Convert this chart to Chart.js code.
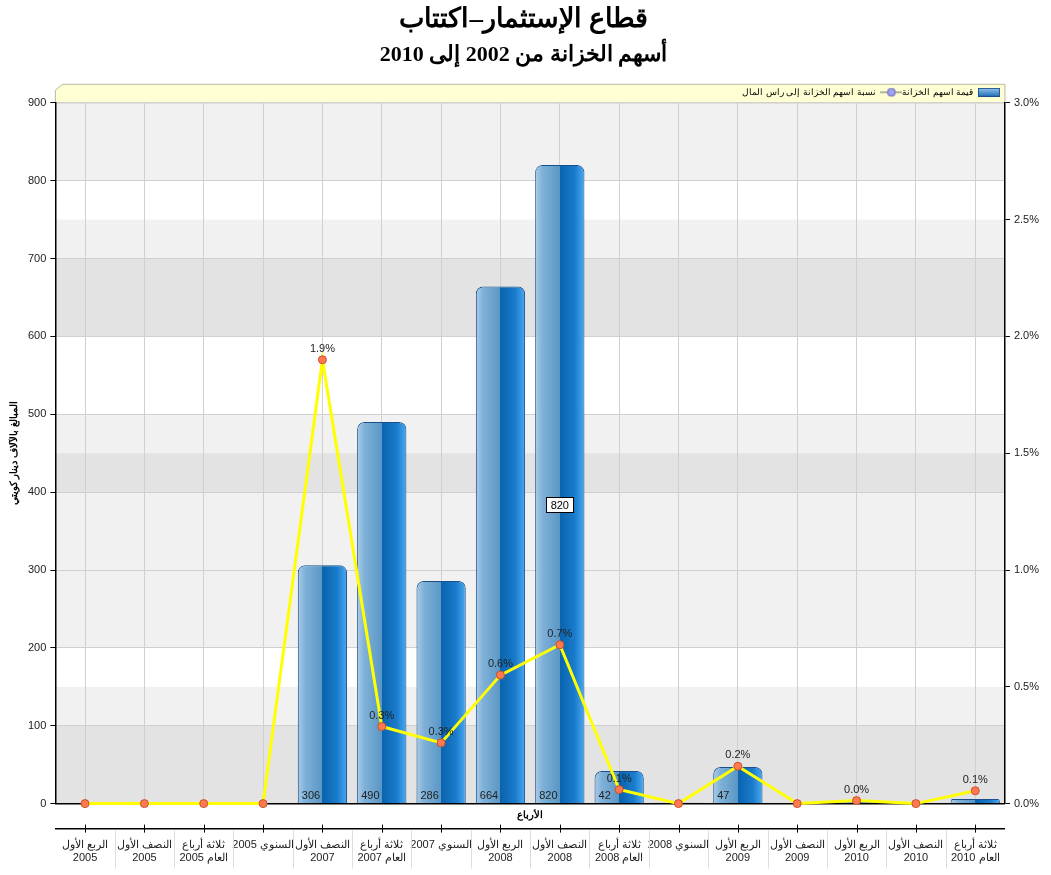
<!DOCTYPE html>
<html>
<head>
<meta charset="utf-8">
<script src="https://cdn.jsdelivr.net/npm/chart.js@4.4.1/dist/chart.umd.min.js"></script>
<style>
  body { margin: 0; background: #fff; }
  #wrap { width: 1051px; height: 875px; }
</style>
</head>
<body>
<div id="wrap"><canvas id="myChart"></canvas></div>
<script>
// categories (quarters)
const quarters = [
  ['الربع الأول', '2005'],
  ['النصف الأول', '2005'],
  ['ثلاثة أرباع', 'العام 2005'],
  'السنوي 2005',
  ['النصف الأول', '2007'],
  ['ثلاثة أرباع', 'العام 2007'],
  'السنوي 2007',
  ['الربع الأول', '2008'],
  ['النصف الأول', '2008'],
  ['ثلاثة أرباع', 'العام 2008'],
  'السنوي 2008',
  ['الربع الأول', '2009'],
  ['النصف الأول', '2009'],
  ['الربع الأول', '2010'],
  ['النصف الأول', '2010'],
  ['ثلاثة أرباع', 'العام 2010']
];

// treasury shares value (thousand KD)
const shareValues = [0, 0, 0, 0, 306, 490, 286, 664, 820, 42, 1, 47, 0, 2, 0, 6];

// treasury shares to capital ratio (%)
const shareRatio = [0, 0, 0, 0, 1.9, 0.33, 0.26, 0.55, 0.68, 0.06, 0, 0.16, 0, 0.013, 0, 0.055];

const leftTicks = { min: 0, max: 900, step: 100 };
const rightTicks = { min: 0, max: 3, step: 0.5 };

const barTitle = 'قيمة أسهم الخزانة';
const lineTitle = 'نسبة أسهم الخزانة إلى رأس المال';
const hoverValue = 820;

const font = "'Liberation Sans', Arial, sans-serif";

function barGradient(c) {
  const chart = c.chart;
  const xs = chart.scales && chart.scales.x;
  if (!chart.chartArea || !xs || c.dataIndex == null) return '#2a7cc4';
  const cx = xs.getPixelForValue(c.dataIndex);
  const w = xs.width / quarters.length * 0.83;
  const g = chart.ctx.createLinearGradient(cx - w / 2, 0, cx + w / 2, 0);
  g.addColorStop(0, '#a9cbe6');
  g.addColorStop(0.15, '#7fb1d8');
  g.addColorStop(0.5, '#5a97c5');
  g.addColorStop(0.5, '#0a63ad');
  g.addColorStop(0.8, '#1a7bcc');
  g.addColorStop(1, '#4aa9ef');
  return g;
}

// small legend icons
function makeBarIcon() {
  const cv = document.createElement('canvas');
  cv.width = 22; cv.height = 9;
  const c = cv.getContext('2d');
  const g = c.createLinearGradient(0, 0, 0, 9);
  g.addColorStop(0, '#9cc6ea');
  g.addColorStop(1, '#1a6db8');
  c.fillStyle = g;
  c.fillRect(0.5, 0.5, 21, 8);
  c.strokeStyle = '#1a4f8c';
  c.strokeRect(0.5, 0.5, 21, 8);
  return cv;
}
function makeLineIcon() {
  const cv = document.createElement('canvas');
  cv.width = 22; cv.height = 10;
  const c = cv.getContext('2d');
  c.strokeStyle = '#666';
  c.lineWidth = 1;
  c.beginPath(); c.moveTo(0, 5); c.lineTo(22, 5); c.stroke();
  c.fillStyle = '#a0a0f0';
  c.strokeStyle = '#6a6ab0';
  c.beginPath(); c.arc(11, 5, 4, 0, Math.PI * 2); c.fill(); c.stroke();
  return cv;
}

let stripTop = 0;

// chart area bands, legend strip, labels, axis cells
const decorPlugin = {
  id: 'decor',
  afterLayout(chart) {
    // keep legend items inside the strip above the plot
    const lg = chart.legend, a = chart.chartArea;
    stripTop = lg.top;
    lg.left = a.left;
    lg.right = a.right - 5;
    lg.width = lg.right - lg.left;
    lg.top += 4;
    lg.bottom += 4;
  },
  beforeDraw(chart) {
    const { ctx, chartArea: a, scales } = chart;
    ctx.save();
    ctx.fillStyle = '#ffffff';
    ctx.fillRect(a.left, a.top, a.right - a.left, a.bottom - a.top);
    ctx.fillStyle = 'rgba(0,0,0,0.055)';
    for (let v = leftTicks.min; v < leftTicks.max; v += leftTicks.step * 2) {
      const y1 = scales.y.getPixelForValue(v), y2 = scales.y.getPixelForValue(v + leftTicks.step);
      ctx.fillRect(a.left, y2, a.right - a.left, y1 - y2);
    }
    for (let v = rightTicks.min; v < rightTicks.max; v += rightTicks.step * 2) {
      const y1 = scales.y2.getPixelForValue(v), y2 = scales.y2.getPixelForValue(v + rightTicks.step);
      ctx.fillRect(a.left, y2, a.right - a.left, y1 - y2);
    }
    // legend strip
    const lt = stripTop + 0.5, lb = a.top;
    ctx.beginPath();
    ctx.moveTo(a.left, lb);
    ctx.lineTo(a.left, lt + 6);
    ctx.lineTo(a.left + 7, lt);
    ctx.lineTo(a.right, lt);
    ctx.lineTo(a.right, lb);
    ctx.closePath();
    ctx.fillStyle = '#ffffd4';
    ctx.fill();
    ctx.strokeStyle = '#b8b8a0';
    ctx.lineWidth = 1;
    ctx.stroke();
    ctx.restore();
  },
  afterDatasetsDraw(chart) {
    const { ctx, scales } = chart;
    ctx.save();
    ctx.font = '11px ' + font;
    ctx.fillStyle = '#222';
    // bar values at bottom-left inside bars
    const bars = chart.getDatasetMeta(0).data;
    ctx.textAlign = 'left';
    ctx.textBaseline = 'alphabetic';
    bars.forEach((b, i) => {
      if (shareValues[i] >= 10) ctx.fillText(String(shareValues[i]), b.x - b.width / 2 + 4, b.base - 4);
    });
    // ratio labels above points
    const pts = chart.getDatasetMeta(1).data;
    ctx.textAlign = 'center';
    pts.forEach((p, i) => {
      if (shareRatio[i] > 0) ctx.fillText(shareRatio[i].toFixed(1) + '%', p.x, p.y - 8);
    });
    // hover box on the top bar
    const iMax = shareValues.indexOf(hoverValue);
    const hb = bars[iMax];
    const hy = scales.y.getPixelForValue(383);
    ctx.fillStyle = '#fff';
    ctx.strokeStyle = '#000';
    ctx.lineWidth = 1;
    ctx.fillRect(Math.round(hb.x) - 13.5, Math.round(hy) - 7.5, 27, 15);
    ctx.strokeRect(Math.round(hb.x) - 13.5, Math.round(hy) - 7.5, 27, 15);
    ctx.fillStyle = '#000';
    ctx.textBaseline = 'middle';
    ctx.fillText(String(hoverValue), hb.x, hy + 1);
    ctx.restore();
  },
  afterDraw(chart) {
    const { ctx, scales } = chart;
    const x2 = scales.x2;
    ctx.save();
    const n = quarters.length;
    const step = (x2.right - x2.left) / n;
    ctx.strokeStyle = '#dddddd';
    ctx.lineWidth = 1;
    for (let i = 1; i < n; i++) {
      const x = Math.round(x2.left + step * i) + 0.5;
      ctx.beginPath(); ctx.moveTo(x, x2.top + 2); ctx.lineTo(x, x2.top + 40); ctx.stroke();
    }
    ctx.strokeStyle = '#000';
    for (let i = 0; i < n; i++) {
      const x = Math.round(x2.getPixelForValue(i)) + 0.5;
      ctx.beginPath(); ctx.moveTo(x, x2.top - 4); ctx.lineTo(x, x2.top + 4); ctx.stroke();
    }
    ctx.restore();
  }
};

document.addEventListener('DOMContentLoaded', function () {
  const ctx = document.getElementById('myChart').getContext('2d');
  const barIcon = makeBarIcon();
  const lineIcon = makeLineIcon();

  new Chart(ctx, {
    data: {
      labels: quarters,
      datasets: [
        {
          type: 'bar',
          label: barTitle,
          data: shareValues,
          yAxisID: 'y',
          order: 1,
          backgroundColor: barGradient,
          borderColor: '#1a4f8c',
          borderWidth: 1,
          borderRadius: { topLeft: 7, topRight: 7 },
          borderSkipped: 'bottom',
          categoryPercentage: 0.83,
          barPercentage: 1
        },
        {
          type: 'line',
          label: lineTitle,
          data: shareRatio,
          yAxisID: 'y2',
          order: 0,
          borderColor: '#ffff00',
          borderWidth: 3,
          pointRadius: 4,
          pointBackgroundColor: '#ff7a50',
          pointBorderColor: '#c8502a',
          pointBorderWidth: 1,
          tension: 0,
          clip: false
        }
      ]
    },
    options: {
      responsive: true,
      maintainAspectRatio: false,
      animation: false,
      layout: { padding: { left: 4, right: 8, top: 4, bottom: 8 } },
      plugins: {
        title: {
          display: true,
          text: 'قطاع الإستثمار–اكتتاب',
          color: '#000',
          font: { family: "'Liberation Serif', 'Times New Roman', serif", size: 27, weight: 'bold' },
          padding: { top: 0, bottom: 6 }
        },
        subtitle: {
          display: true,
          text: 'أسهم الخزانة من 2002 إلى 2010',
          color: '#000',
          font: { family: "'Liberation Serif', 'Times New Roman', serif", size: 22, weight: 'bold' },
          padding: { top: 0, bottom: 15 }
        },
        legend: {
          display: true,
          position: 'top',
          align: 'start',
          rtl: true,
          labels: {
            usePointStyle: true,
            pointStyleWidth: 22,
            boxHeight: 9,
            padding: 0,
            color: '#222',
            font: { family: font, size: 9 },
            generateLabels: function () {
              return [
                { text: barTitle, pointStyle: barIcon, datasetIndex: 0, fillStyle: '#3a8ad0', strokeStyle: '#1a4f8c', lineWidth: 0 },
                { text: lineTitle, pointStyle: lineIcon, datasetIndex: 1, fillStyle: '#a0a0f0', strokeStyle: '#666', lineWidth: 0 }
              ];
            }
          }
        },
        tooltip: { enabled: false }
      },
      scales: {
        x: {
          type: 'category',
          position: 'bottom',
          grid: { display: true, offset: false, color: '#d0d0d0', drawTicks: false },
          border: { display: true, color: '#000', width: 1.5 },
          ticks: { display: false },
          title: {
            display: true,
            text: 'الأرباع',
            color: '#000',
            font: { family: font, size: 10, weight: 'bold' },
            padding: { top: 6, bottom: 7 }
          }
        },
        x2: {
          type: 'category',
          position: 'bottom',
          weight: 1,
          offset: true,
          grid: { display: false },
          border: { display: true, color: '#000', width: 1.5 },
          ticks: {
            color: '#222',
            font: { family: font, size: 11 },
            maxRotation: 0,
            autoSkip: false,
            padding: 2
          }
        },
        y: {
          position: 'left',
          min: leftTicks.min,
          max: leftTicks.max,
          ticks: { stepSize: leftTicks.step, color: '#222', font: { family: font, size: 11 }, padding: 4 },
          grid: { color: '#d0d0d0', tickColor: '#000', tickLength: 5 },
          border: { display: true, color: '#000', width: 1.5 },
          title: {
            display: true,
            text: 'المبالغ بالآلاف دينار كويتي',
            color: '#000',
            font: { family: font, size: 10, weight: 'bold' },
            padding: { top: 4, bottom: 4 }
          }
        },
        y2: {
          position: 'right',
          min: rightTicks.min,
          max: rightTicks.max,
          ticks: {
            stepSize: rightTicks.step,
            color: '#222',
            font: { family: font, size: 11 },
            padding: 4,
            callback: v => v.toFixed(1) + '%'
          },
          grid: { drawOnChartArea: false, tickColor: '#000', tickLength: 5 },
          border: { display: true, color: '#000', width: 1.5 }
        }
      }
    },
    plugins: [decorPlugin]
  });
});
</script>
</body>
</html>
